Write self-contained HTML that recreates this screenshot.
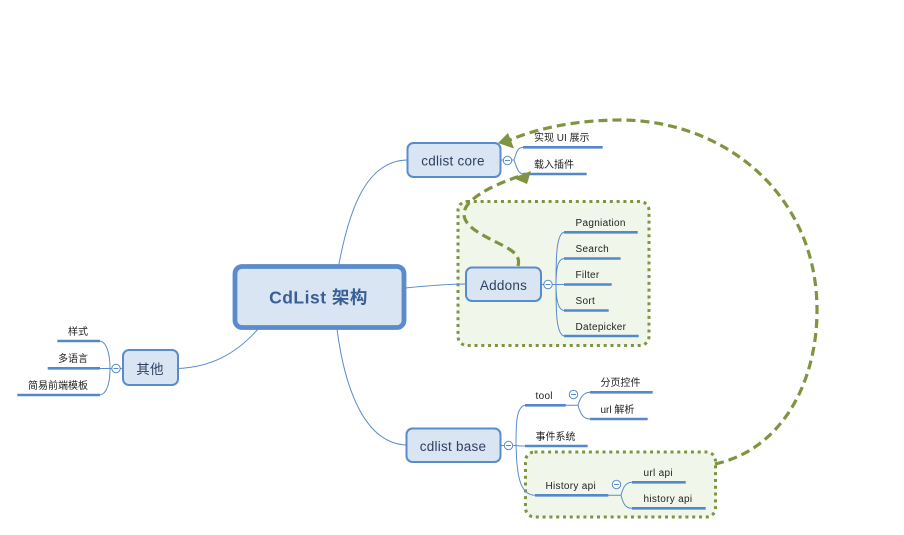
<!DOCTYPE html>
<html><head><meta charset="utf-8"><style>
html,body{margin:0;padding:0;background:#fff;width:904px;height:535px;overflow:hidden}
svg{display:block}
text{font-family:"Liberation Sans","Noto Sans CJK SC",sans-serif}
.t{font-size:10px;fill:#222;letter-spacing:.3px}
.z{font-size:10px;fill:#222}
.n{font-size:13.500px;fill:#2f4060;text-anchor:middle;letter-spacing:.25px}
.node{fill:#dae5f4;stroke:#5a8ccb;stroke-width:2}
.l{stroke:#5389cb;stroke-width:2.600;fill:none}
.c{stroke:#5a8ccb;stroke-width:1;fill:none}
.m{fill:#fff;stroke:#5a8ccb;stroke-width:1}
.d{stroke:#5a8ccb;stroke-width:1}
.b{fill:#f1f6ea;stroke:#7f9440;stroke-width:3;stroke-dasharray:3 3.800}
.a{fill:none;stroke:#7f9440;stroke-width:3.200;stroke-dasharray:9 5}
</style></head><body>
<svg width="904" height="535" viewBox="0 0 904 535" xmlns="http://www.w3.org/2000/svg">
<rect x="458" y="201.500" width="191" height="144" rx="9" class="b"/>
<rect x="525.500" y="452" width="190" height="65" rx="9" class="b"/>

<path class="c" d="M339,264 C350,205 368,161 407,160"/>
<path class="c" d="M405,288 C425,286 445,284 466,284"/>
<path class="c" d="M337,329 C345,390 365,443 406,445"/>
<path class="c" d="M258,329 C235,355 210,367 178,368.500"/>

<path class="c" d="M501,160 H514 M514,160 C517,150 518,147.300 524,147.300 M514,160 C517,168 518,174 524,174"/>
<path class="c" d="M542,284.500 H556 M564,232.300 C556,234 556,260 556,284.500 C556,310 556,334 564,336 M564,258.500 C558,259 556,268 556,284.500 M556,284.500 H564 M564,310.500 C558,310 556,300 556,284.500"/>
<path class="c" d="M501,445.500 H516 M525,405.300 C516,407 516,425 516,445.500 C517,470 518,495 535,495.300 M516,445.500 C518,446 522,446 525,446"/>
<path class="c" d="M565,405.300 H578 M590,392.300 C583,392.500 580,398 578,405.300 C580,413 583,419 590,419"/>
<path class="c" d="M608,495.300 H621 M632,482.300 C625,482.500 623,488 621,495.300 C623,503 625,508.300 632,508.300"/>
<path class="c" d="M122,368.500 H100 M100,341 C106,342 110,352 110,368.500 C110,385 106,394 100,395"/>

<line class="l" x1="523" y1="147.300" x2="602.700" y2="147.300"/>
<line class="l" x1="523" y1="174" x2="586.700" y2="174"/>
<line class="l" x1="564" y1="232.300" x2="637.700" y2="232.300"/>
<line class="l" x1="564" y1="258.500" x2="620.600" y2="258.500"/>
<line class="l" x1="564" y1="284.500" x2="611.700" y2="284.500"/>
<line class="l" x1="564" y1="310.500" x2="608.700" y2="310.500"/>
<line class="l" x1="564" y1="336" x2="638.700" y2="336"/>
<line class="l" x1="525" y1="405.300" x2="565.700" y2="405.300"/>
<line class="l" x1="525" y1="446" x2="587.700" y2="446"/>
<line class="l" x1="535" y1="495.300" x2="608.300" y2="495.300"/>
<line class="l" x1="590" y1="392.300" x2="652.700" y2="392.300"/>
<line class="l" x1="590" y1="419" x2="647.700" y2="419"/>
<line class="l" x1="632" y1="482.300" x2="685.700" y2="482.300"/>
<line class="l" x1="632" y1="508.300" x2="705.700" y2="508.300"/>
<line class="l" x1="57.300" y1="341" x2="100" y2="341"/>
<line class="l" x1="47.700" y1="368.300" x2="100" y2="368.300"/>
<line class="l" x1="17.300" y1="395" x2="100" y2="395"/>

<rect x="235" y="266.500" width="169" height="61" rx="7" fill="#dae5f4" stroke="#5a8ccb" stroke-width="4.800"/>
<rect x="407.500" y="143" width="93" height="34" rx="6" class="node"/>
<rect x="466" y="267.500" width="75" height="33.500" rx="6" class="node"/>
<rect x="406.500" y="428.500" width="94" height="33.500" rx="6" class="node"/>
<rect x="123" y="350" width="55" height="35" rx="6" class="node"/>

<g>
<circle class="m" cx="507.500" cy="160.500" r="4.200"/><line class="d" x1="505" y1="160.500" x2="510" y2="160.500"/>
<circle class="m" cx="548" cy="284.500" r="4.200"/><line class="d" x1="545.500" y1="284.500" x2="550.500" y2="284.500"/>
<circle class="m" cx="508.500" cy="445.500" r="4.200"/><line class="d" x1="506" y1="445.500" x2="511" y2="445.500"/>
<circle class="m" cx="573.500" cy="394.500" r="4.200"/><line class="d" x1="571" y1="394.500" x2="576" y2="394.500"/>
<circle class="m" cx="616.500" cy="484.500" r="4.200"/><line class="d" x1="614" y1="484.500" x2="619" y2="484.500"/>
<circle class="m" cx="116" cy="368.500" r="4.200"/><line class="d" x1="113.500" y1="368.500" x2="118.500" y2="368.500"/>
</g>

<path class="a" d="M715,464 C780,450 817,385 817,310 C817,195 725,120 620,120 C575,120 535,129 510,140"/>
<path d="M498,143 L514,148.500 L508,133 Z" fill="#7f9440"/>
<path class="a" d="M518,266 C521,255 512,250 498,243 C480,234 464,226 464,214 C464,200 490,186 520,176"/>
<path d="M531,171 L513,178 L527,184 Z" fill="#7f9440"/>

<text x="318.500" y="303.500" text-anchor="middle" font-size="17.500" font-weight="700" fill="#3a5f94" letter-spacing=".5">CdList 架构</text>
<text x="453" y="165.500" class="n">cdlist core</text>
<text x="503.500" y="290" class="n">Addons</text>
<text x="453" y="451" class="n">cdlist base</text>
<text x="150" y="374" class="n">其他</text>

<text x="534" y="141" class="z">实现 UI 展示</text>
<text x="534" y="168" class="z">载入插件</text>
<text x="575.500" y="226" class="t">Pagniation</text>
<text x="575.500" y="252" class="t">Search</text>
<text x="575.500" y="278" class="t">Filter</text>
<text x="575.500" y="304" class="t">Sort</text>
<text x="575.500" y="330" class="t">Datepicker</text>
<text x="535.500" y="399" class="t">tool</text>
<text x="535.500" y="440" class="z">事件系统</text>
<text x="545.500" y="489" class="t">History api</text>
<text x="600.500" y="386" class="z">分页控件</text>
<text x="600.500" y="413" class="z">url 解析</text>
<text x="643.500" y="476" class="t">url api</text>
<text x="643.500" y="502" class="t">history api</text>
<text x="88" y="335" class="z" text-anchor="end">样式</text>
<text x="88" y="362" class="z" text-anchor="end">多语言</text>
<text x="88" y="389" class="z" text-anchor="end">简易前端模板</text>
</svg>
</body></html>
